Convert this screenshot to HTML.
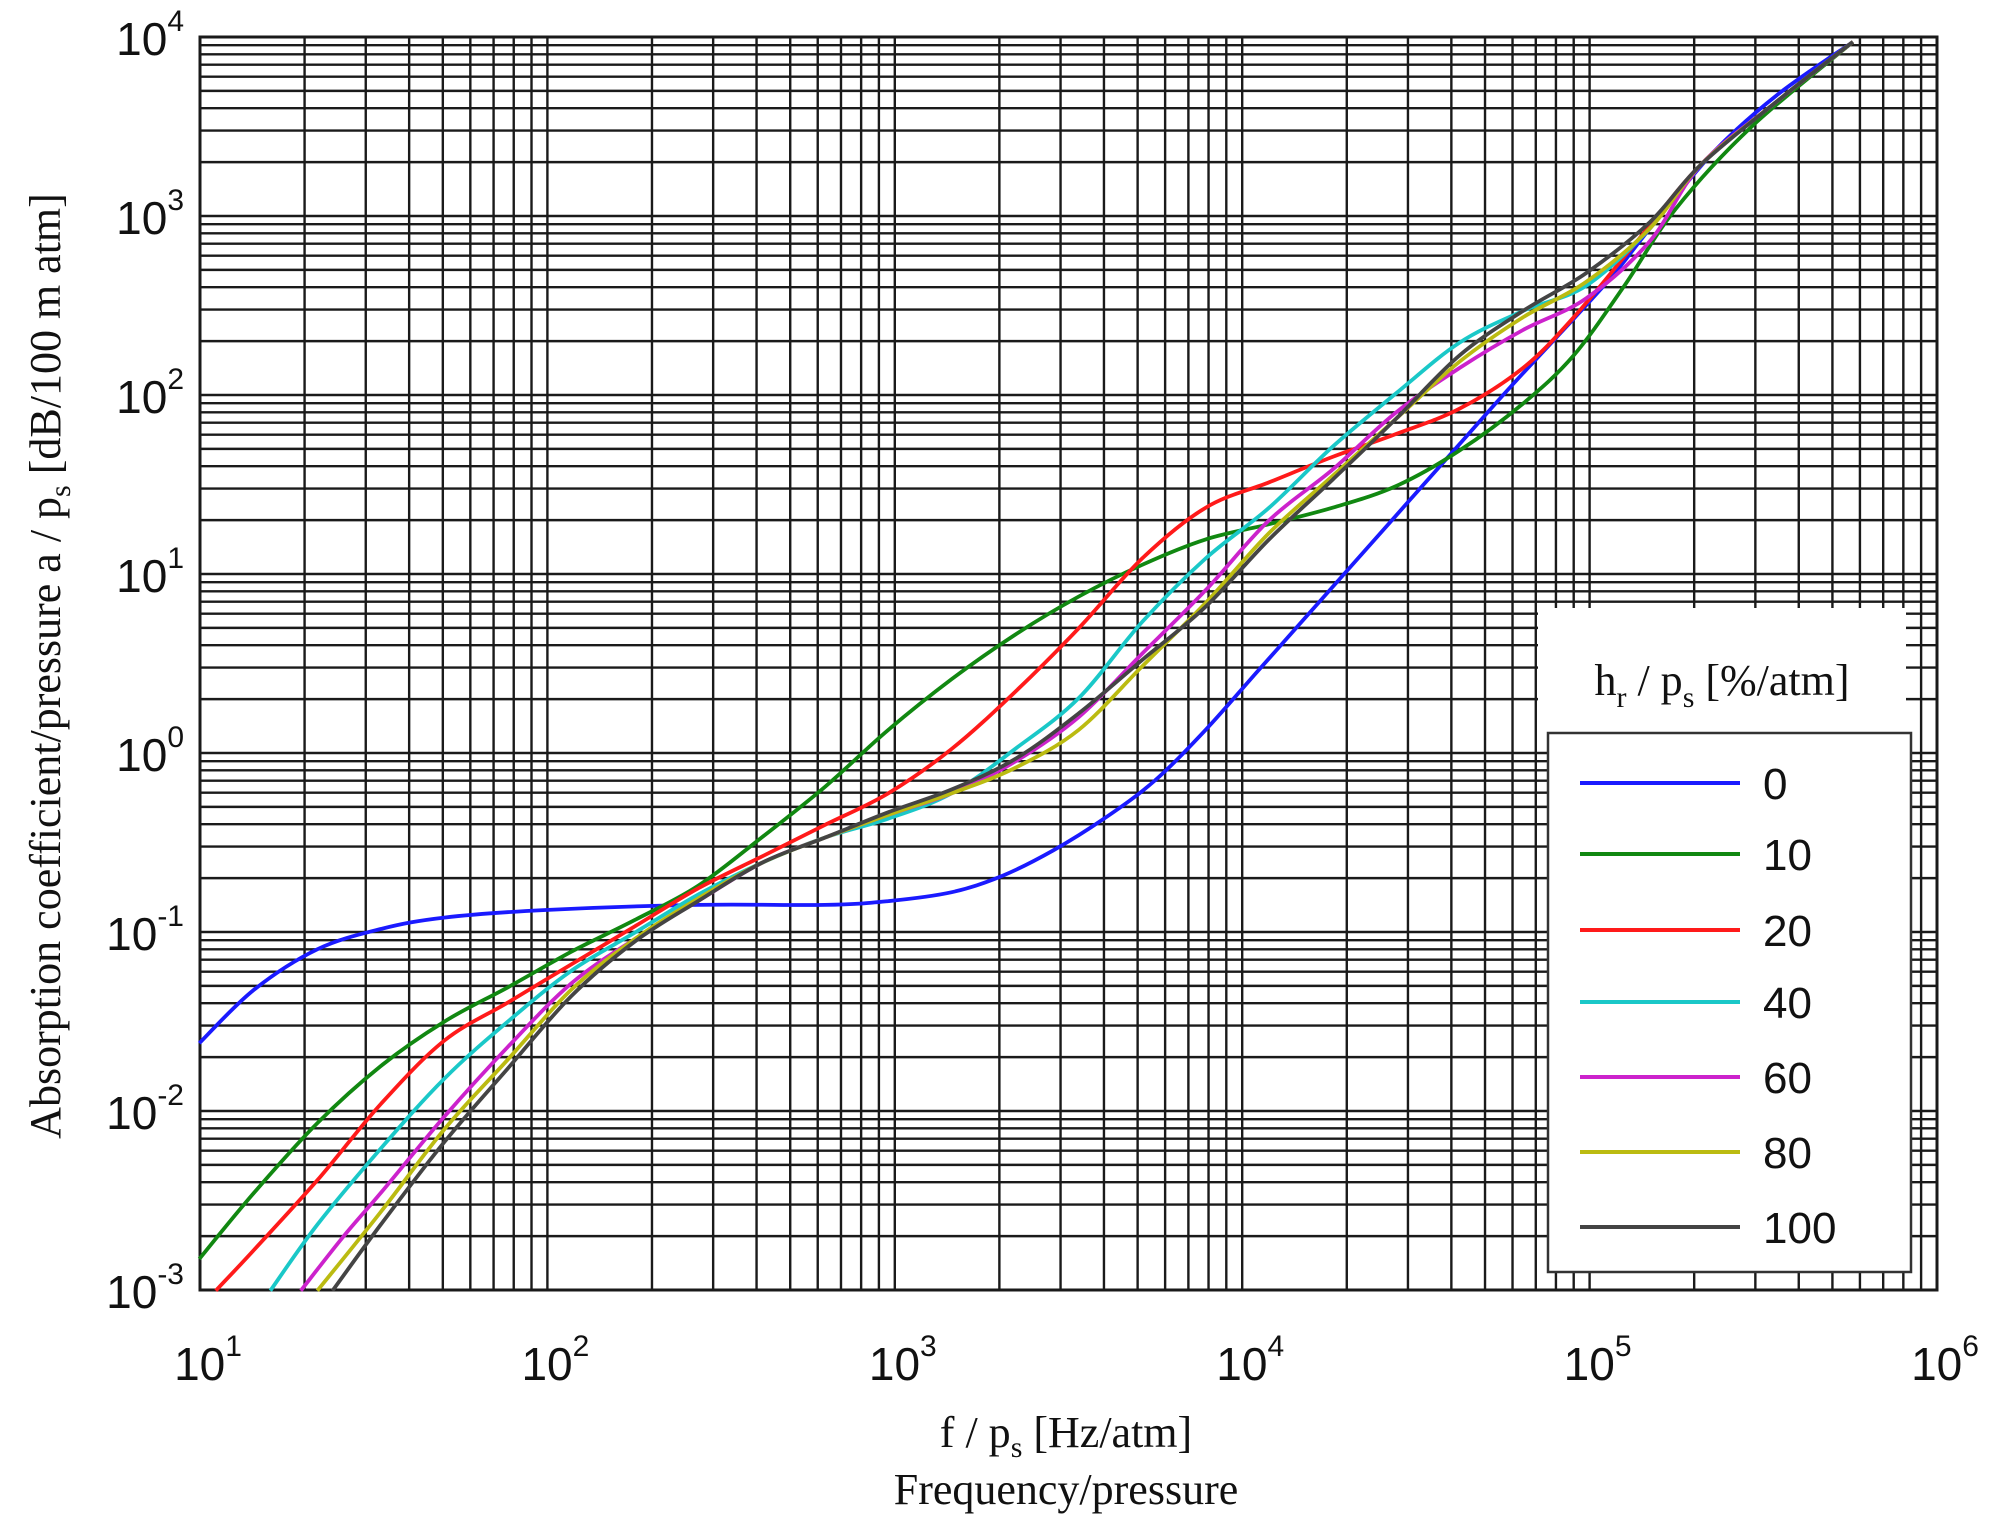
<!DOCTYPE html>
<html><head><meta charset="utf-8"><style>
html,body{margin:0;padding:0;background:#fff;}
svg{display:block;}
</style></head><body>
<svg id="s" width="1990" height="1532" viewBox="0 0 1990 1532" xmlns="http://www.w3.org/2000/svg">
<rect width="1990" height="1532" fill="#fff"/>
<g id="grid"></g>
<g id="curves" fill="none" stroke-width="3.8" stroke-linejoin="round"></g>
<rect x="1538" y="608" width="368" height="125" fill="#fff"/>
<text x="1722" y="695" font-family="Liberation Serif, serif" font-size="44" text-anchor="middle" fill="#111">h<tspan font-size="30" dy="12">r</tspan><tspan dy="-12"> / p</tspan><tspan font-size="30" dy="12">s</tspan><tspan dy="-12"> [%/atm]</tspan></text>
<rect x="1548" y="733" width="363" height="539" fill="#fff" stroke="#333" stroke-width="2.5"/>
<g id="leg" font-family="Liberation Sans, sans-serif" font-size="44" fill="#111"></g>
<g id="labels" font-family="Liberation Sans, sans-serif" fill="#111"></g>
<text x="1066" y="1447" font-family="Liberation Serif, serif" font-size="44" text-anchor="middle" fill="#111">f / p<tspan font-size="30" dy="10">s</tspan><tspan dy="-10"> [Hz/atm]</tspan></text>
<text x="1066" y="1504" font-family="Liberation Serif, serif" font-size="44" text-anchor="middle" fill="#111">Frequency/pressure</text>
<text transform="translate(60,666) rotate(-90)" font-family="Liberation Serif, serif" font-size="44" text-anchor="middle" fill="#111">Absorption coefficient/pressure a / p<tspan font-size="30" dy="10">s</tspan><tspan dy="-10"> [dB/100 m atm]</tspan></text>
</svg>
<script>
var NS="http://www.w3.org/2000/svg";
var L=200,R=1937,T=37,B=1290;
var dx=(R-L)/5, dy=(B-T)/7;
var g=document.getElementById('grid');
function ln(x1,y1,x2,y2,w){var e=document.createElementNS(NS,'line');e.setAttribute('x1',x1);e.setAttribute('y1',y1);e.setAttribute('x2',x2);e.setAttribute('y2',y2);e.setAttribute('stroke','#1a1a1a');e.setAttribute('stroke-width',w);g.appendChild(e);}
for(var d=0;d<5;d++)for(var k=1;k<10;k++){var x=L+(d+Math.log10(k))*dx;ln(x,T,x,B,2.4);}
for(var d=0;d<7;d++)for(var k=1;k<10;k++){var y=B-(d+Math.log10(k))*dy;ln(L,y,R,y,2.4);}
var r=document.createElementNS(NS,'rect');r.setAttribute('x',L);r.setAttribute('y',T);r.setAttribute('width',R-L);r.setAttribute('height',B-T);r.setAttribute('fill','none');r.setAttribute('stroke','#1a1a1a');r.setAttribute('stroke-width',3);g.appendChild(r);
var lab=document.getElementById('labels');
function tl(x,y,e,anchor){var t=document.createElementNS(NS,'text');t.setAttribute('x',x);t.setAttribute('y',y);t.setAttribute('text-anchor',anchor);t.setAttribute('font-size','46');t.innerHTML='10<tspan font-size="30" dy="-24">'+e+'</tspan>';lab.appendChild(t);}
for(var i=0;i<=5;i++)tl(L+i*dx+8,1380,i+1,'middle');
for(var i=0;i<=7;i++)tl(184,B-i*dy+18,i-3,'end');
var S=1990/1568;
var data=[
['#1a1aff',[[157,822],[200,780],[250,748],[300,732],[350,723],[430,717],[550,713],[650,713],[700,710],[750,703],[790,690],[830,670],[870,645],[910,615],[950,575],[990,530],[1030,485],[1070,440],[1110,395],[1150,350],[1190,305],[1230,262],[1270,218],[1300,180],[1350,120],[1400,75],[1460,33]]],
['#118811',[[157,992],[200,940],[250,885],[300,840],[350,805],[400,778],[450,750],[500,725],[550,698],[600,660],[650,620],[700,575],[750,535],[800,500],[850,470],[900,445],[950,425],[1000,413],[1050,400],[1100,383],[1150,355],[1200,318],[1240,280],[1280,225],[1320,165],[1380,100],[1460,33]]],
['#ff1a1a',[[170,1017],[200,985],[250,930],[300,870],[350,820],[400,790],[450,760],[500,730],[550,700],[600,675],[650,650],[700,625],[750,590],[800,545],[850,495],[900,440],[950,400],[1000,380],[1050,360],[1100,342],[1150,322],[1200,290],[1240,250],[1290,190],[1340,130],[1400,80],[1460,33]]],
['#1ac8c8',[[213,1017],[250,965],[300,905],[350,850],[400,805],[450,765],[500,735],[550,705],[600,680],[650,660],[700,645],[750,625],[800,590],[850,550],[900,490],[950,440],[1000,400],[1050,352],[1100,310],[1150,270],[1200,245],[1250,225],[1300,180],[1340,130],[1400,80],[1460,33]]],
['#cc22cc',[[237,1017],[270,975],[300,940],[350,880],[400,825],[450,775],[500,740],[550,710],[600,680],[650,660],[700,642],[750,625],[800,600],[850,565],[900,515],[950,465],[1000,410],[1050,370],[1100,325],[1150,290],[1200,260],[1250,235],[1300,190],[1340,130],[1400,80],[1460,33]]],
['#bbbb11',[[250,1017],[300,955],[350,890],[400,835],[450,780],[500,740],[550,708],[600,680],[650,660],[700,642],[750,625],[800,605],[850,575],[900,525],[950,475],[1000,420],[1050,375],[1100,330],[1150,285],[1200,250],[1250,222],[1300,180],[1340,130],[1400,80],[1460,33]]],
['#444444',[[262,1017],[300,965],[350,900],[400,842],[450,785],[500,742],[550,710],[600,680],[650,660],[700,640],[750,622],[800,598],[850,562],[900,520],[950,478],[1000,425],[1050,378],[1100,330],[1150,280],[1200,245],[1250,215],[1300,175],[1340,130],[1400,80],[1460,33]]]
];
var cg=document.getElementById('curves');
function path(p){var d='M'+(p[0][0]*S).toFixed(1)+','+(p[0][1]*S).toFixed(1);
for(var i=0;i<p.length-1;i++){var p0=p[i-1]||p[i],p1=p[i],p2=p[i+1],p3=p[i+2]||p2;
var c1=[p1[0]+(p2[0]-p0[0])/6,p1[1]+(p2[1]-p0[1])/6],c2=[p2[0]-(p3[0]-p1[0])/6,p2[1]-(p3[1]-p1[1])/6];
d+='C'+[c1[0]*S,c1[1]*S,c2[0]*S,c2[1]*S,p2[0]*S,p2[1]*S].map(function(v){return v.toFixed(1)}).join(',');}
return d;}
var leg=document.getElementById('leg');var names=['0','10','20','40','60','80','100'];
var ys=[783,854,930,1002,1077,1152,1227];
data.forEach(function(s,i){var e=document.createElementNS(NS,'path');e.setAttribute('d',path(s[1]));e.setAttribute('stroke',s[0]);cg.appendChild(e);
var l=document.createElementNS(NS,'line');l.setAttribute('x1',1580);l.setAttribute('x2',1740);l.setAttribute('y1',ys[i]);l.setAttribute('y2',ys[i]);l.setAttribute('stroke',s[0]);l.setAttribute('stroke-width',4);leg.appendChild(l);
var t=document.createElementNS(NS,'text');t.setAttribute('x',1763);t.setAttribute('y',ys[i]+16);t.textContent=names[i];leg.appendChild(t);});
</script>
</body></html>
